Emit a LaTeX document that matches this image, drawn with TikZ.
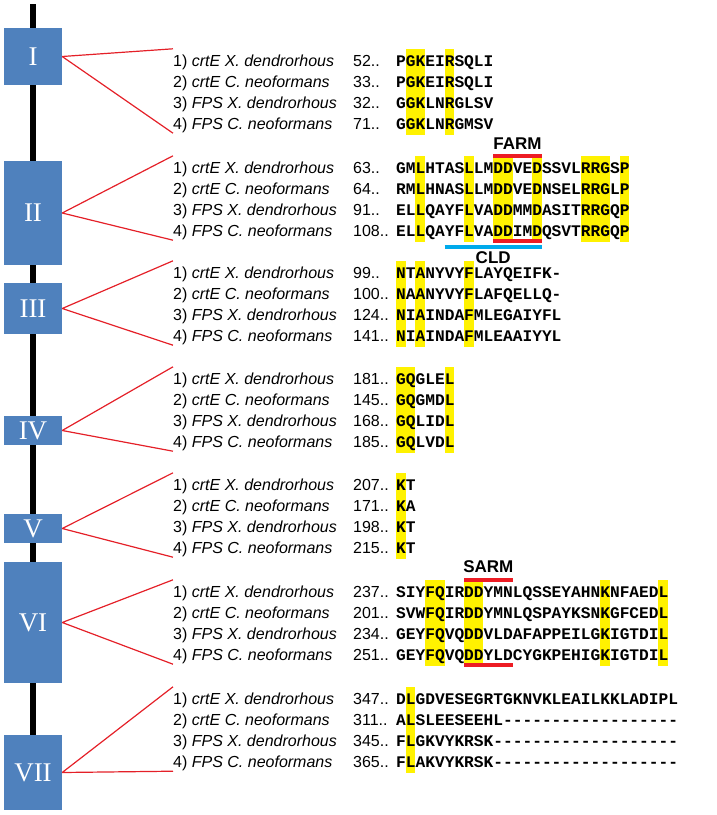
\documentclass[tikz,border=0pt]{standalone}
\usepackage{fontspec}
\setmainfont{Liberation Sans}
\setmonofont{Liberation Mono}
\newfontfamily\romanfont{Liberation Serif}
\usepackage{tikz}
\usetikzlibrary{positioning}

\definecolor{boxblue}{RGB}{79,129,189}
\definecolor{linkred}{RGB}{228,32,40}
\definecolor{motifred}{RGB}{237,28,36}
\definecolor{cldblue}{RGB}{0,170,235}

\begin{document}
\begin{tikzpicture}[x=1pt,y=-1pt,
    regionbox/.style={fill=boxblue,text=white,minimum width=58pt,inner sep=0pt,
      font=\romanfont\fontsize{27}{27}\selectfont},
    redlink/.style={draw=linkred,line width=1.2pt},
    rowlabel/.style={anchor=base west,inner xsep=0pt,inner ysep=1pt,
      text height=16pt,text depth=3pt,font=\fontsize{16}{19}\selectfont},
    numlabel/.style={anchor=base west,inner sep=0pt,font=\fontsize{16}{19}\selectfont},
    seqtext/.style={anchor=base west,inner sep=0pt,text height=11pt,
      font=\ttfamily\bfseries\fontsize{16.2}{19}\selectfont},
    hl/.style={fill=yellow},
    motifbar/.style={line width=4pt},
    motif/.style={inner sep=0pt,font=\bfseries\fontsize{17}{17}\selectfont}]
\useasboundingbox (0,0) rectangle (717,815);

% gene backbone
\coordinate (spine top) at (33,4);
\coordinate (spine end) at (33,780);
\draw[line width=6pt] (spine top) -- (spine end);

% conserved regions
\node[regionbox,minimum height=57pt]  (I)   at (33,56.5)  {I};
\node[regionbox,minimum height=104pt] (II)  at (33,213)   {II};
\node[regionbox,minimum height=51pt]  (III) at (33,308.5) {III};
\node[regionbox,minimum height=29pt]  (IV)  at (33,430.5) {IV};
\node[regionbox,minimum height=29pt]  (V)   at (33,528.5) {V};
\node[regionbox,minimum height=121pt] (VI)  at (33,622.5) {VI};
\node[regionbox,minimum height=75pt]  (VII) at (33,772.5) {VII};

% alignments
\foreach \g/\y/\cols/\rows in {
  I/60/{1,2,5}/{52/PGKEIRSQLI,33/PGKEIRSQLI,32/GGKLNRGLSV,71/GGKLNRGMSV},
  II/167/{2,7,10,11,14,19,20,21,23}/{63/GMLHTASLLMDDVEDSSVLRRGSP,64/RMLHNASLLMDDVEDNSELRRGLP,91/ELLQAYFLVADDMMDASITRRGQP,108/ELLQAYFLVADDIMDQSVTRRGQP},
  III/272/{0,2,7}/{99/NTANYVYFLAYQEIFK-,100/NAANYVYFLAFQELLQ-,124/NIAINDAFMLEGAIYFL,141/NIAINDAFMLEAAIYYL},
  IV/378/{0,1,5}/{181/GQGLEL,145/GQGMDL,168/GQLIDL,185/GQLVDL},
  V/484/{0}/{207/KT,171/KA,198/KT,215/KT},
  VI/591/{3,4,7,8,21,27}/{237/SIYFQIRDDYMNLQSSEYAHNKNFAEDL,201/SVWFQIRDDYMNLQSPAYKSNKGFCEDL,234/GEYFQVQDDVLDAFAPPEILGKIGTDIL,251/GEYFQVQDDYLDCYGKPEHIGKIGTDIL},
  VII/698/{1}/{347/DLGDVESEGRTGKNVKLEAILKKLADIPL,311/ALSLEESEEHL------------------,345/FLGKVYKRSK-------------------,365/FLAKVYKRSK-------------------}}{
  \foreach \c in \cols \fill[hl] (396+9.72*\c,\y-11) rectangle +(9.72,86);
  \foreach \k/\who in {1/crtE X. dendrorhous,2/crtE C. neoformans,3/FPS X. dendrorhous,4/FPS C. neoformans}
    \node[rowlabel] (\g-\k) at (173,\y+21*\k-15) {\k) \textit{\who}};
  \foreach [count=\k] \n/\s in \rows {
    \node[numlabel] (\g-n\k) at (353,\y+21*\k-15) {\n..};
    \node[seqtext] (\g-s\k) at (396,\y+21*\k-15) {\s};
  }
  \draw[redlink] (\g.east) -- (\g-1.north west) (\g.east) -- (\g-4.south west);
}

% motifs
\coordinate (farm a) at (493.2,156);
\coordinate (farm b) at (541.8,156);
\draw[motifbar,motifred] (farm a) -- node[motif,above=5pt,text=black] {FARM} (farm b);
\coordinate (farm c) at (493.2,241);
\coordinate (farm d) at (541.8,241);
\draw[motifbar,motifred] (farm c) -- (farm d);
\coordinate (cld a) at (444.6,247);
\coordinate (cld b) at (541.8,247);
\draw[motifbar,cldblue] (cld a) -- node[motif,below=2.5pt,text=black] {CLD} (cld b);
\coordinate (sarm a) at (464.0,580);
\coordinate (sarm b) at (512.6,580);
\draw[motifbar,motifred] (sarm a) -- node[motif,above=5pt,text=black] {SARM} (sarm b);
\coordinate (sarm c) at (464.0,665);
\coordinate (sarm d) at (512.6,665);
\draw[motifbar,motifred] (sarm c) -- (sarm d);
\end{tikzpicture}
\end{document}
